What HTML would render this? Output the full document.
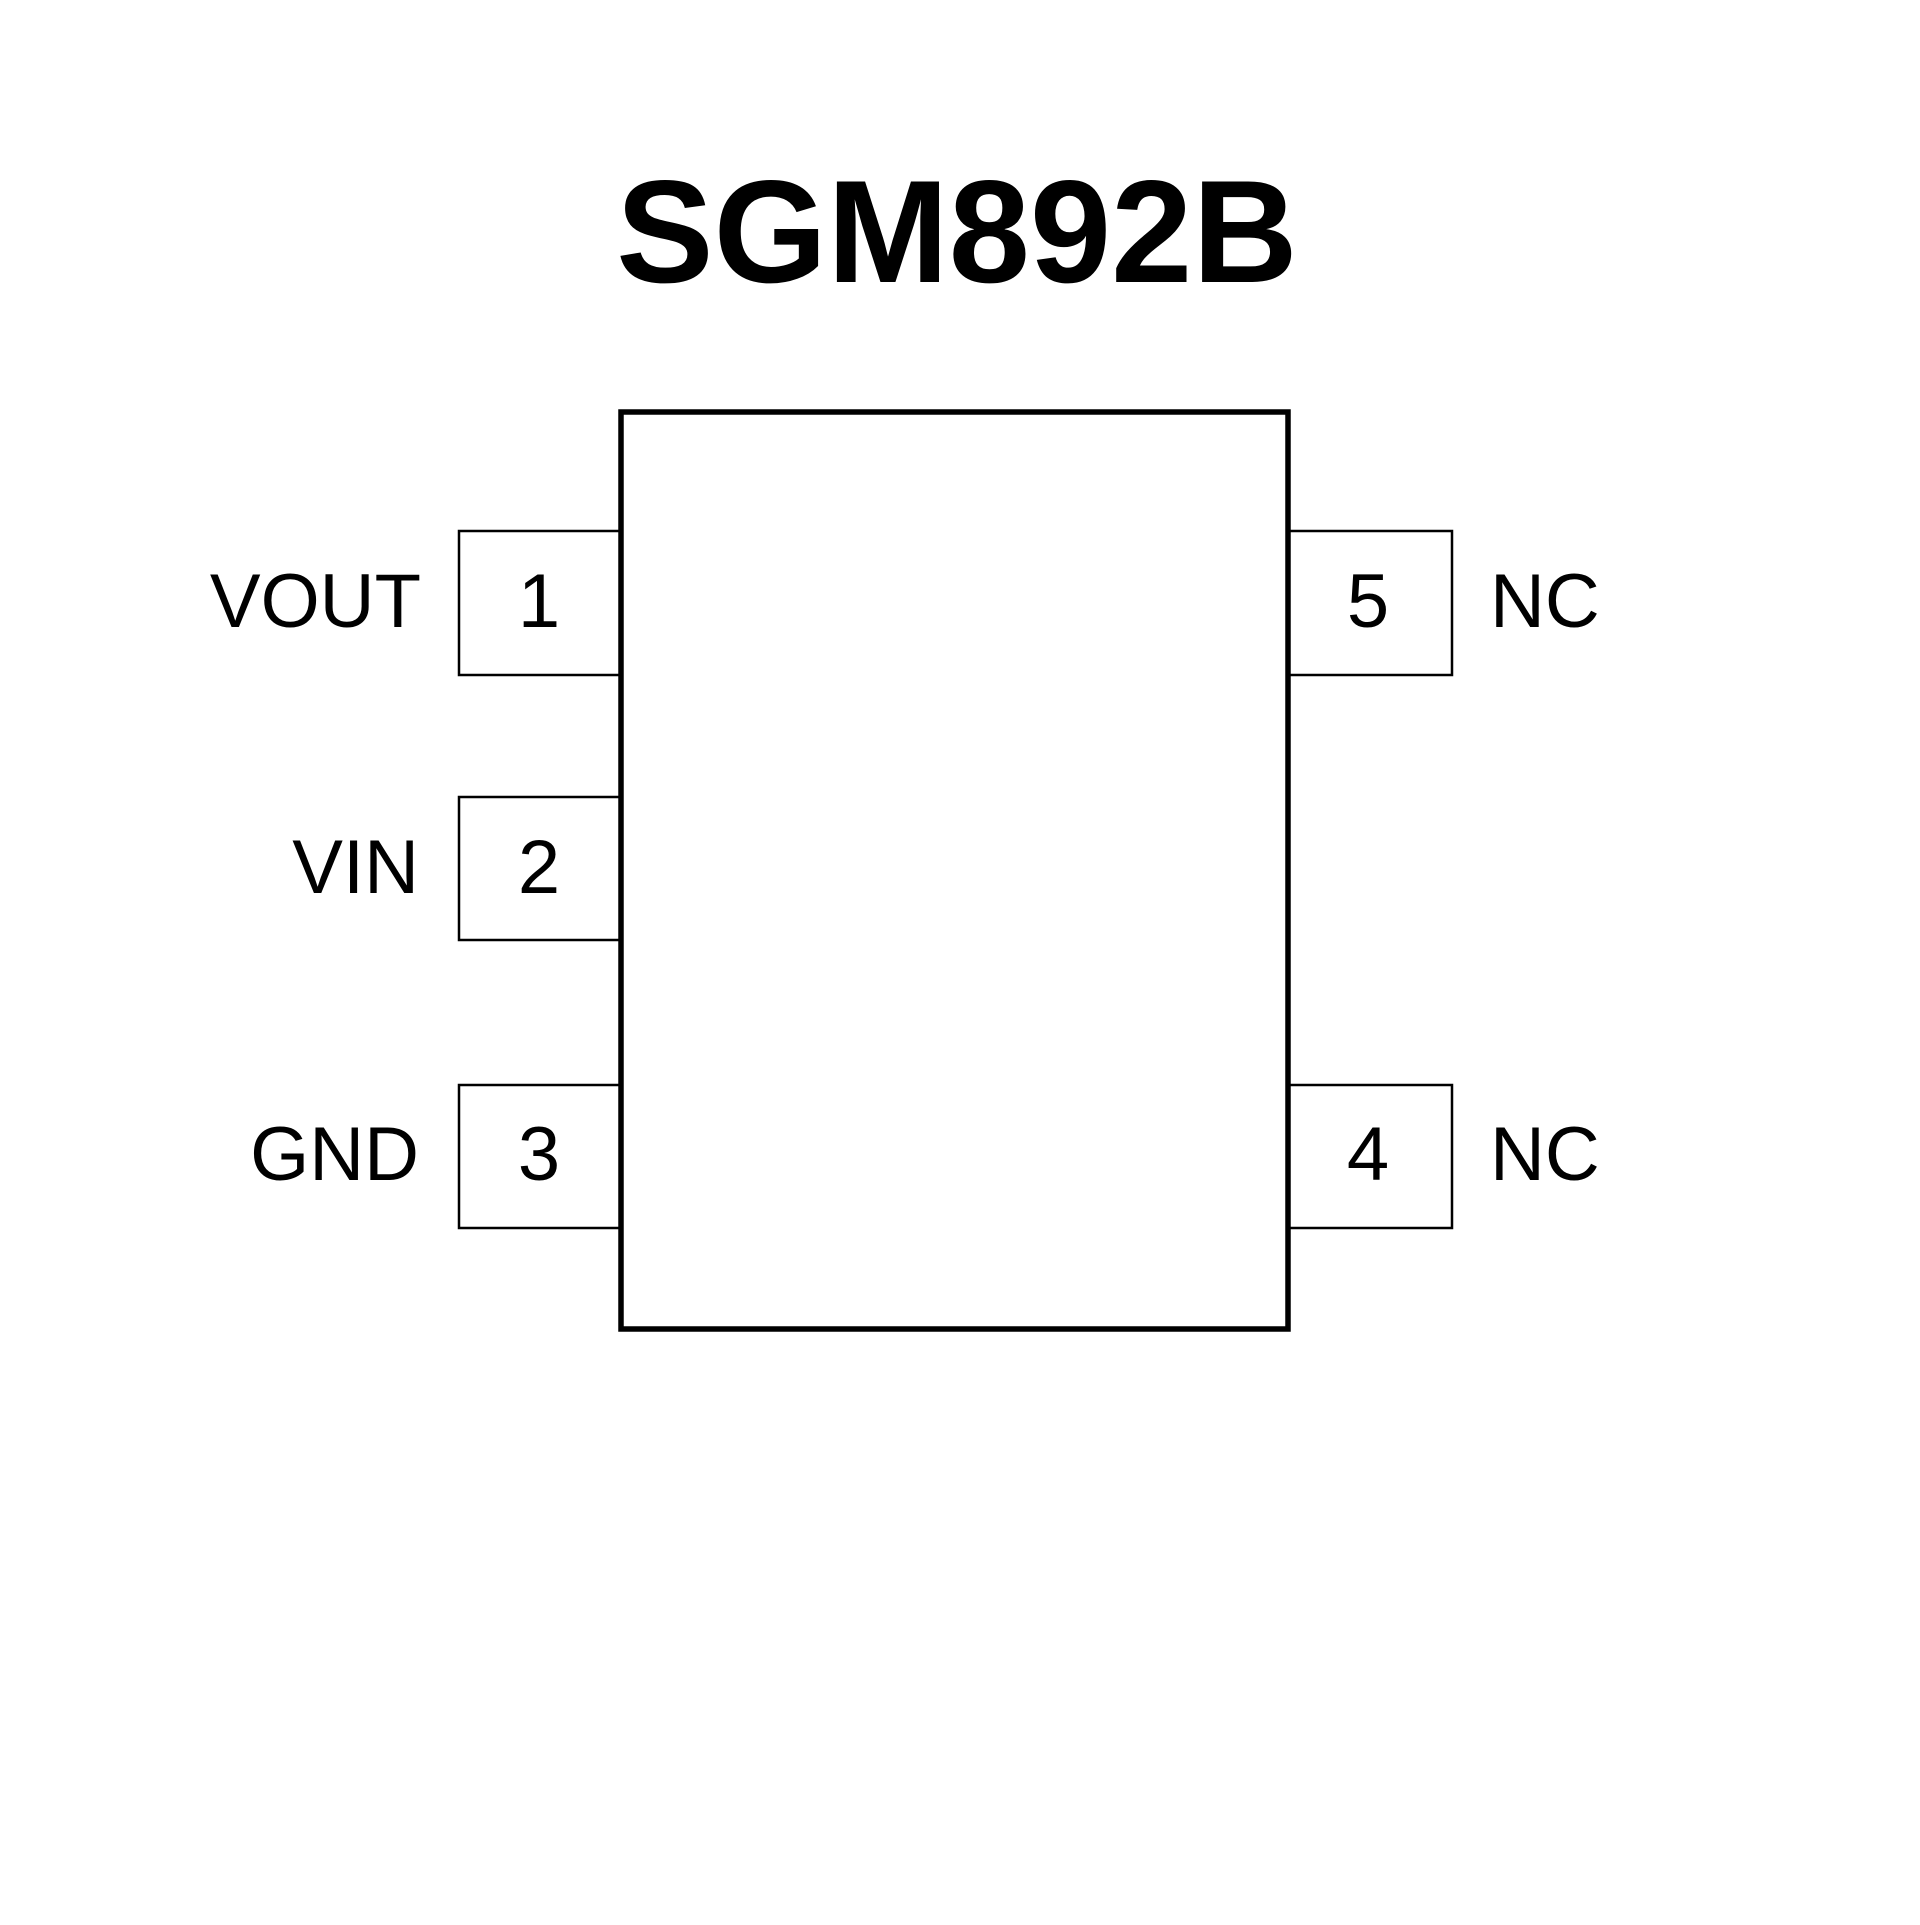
<!DOCTYPE html>
<html><head><style>html,body{margin:0;padding:0;background:#fff}</style></head>
<body>
<svg width="1920" height="1920" viewBox="0 0 1920 1920" xmlns="http://www.w3.org/2000/svg">
<rect width="1920" height="1920" fill="#fff"/>
<text x="957" y="282" font-family="Liberation Sans, sans-serif" font-weight="bold" font-size="146" text-anchor="middle" fill="#000">SGM892B</text>
<rect x="621" y="412" width="667" height="917" fill="none" stroke="#000" stroke-width="5.5"/>
<g fill="none" stroke="#000" stroke-width="2.5">
<polyline points="619,531 459,531 459,675 619,675"/>
<polyline points="619,797 459,797 459,940 619,940"/>
<polyline points="619,1085 459,1085 459,1228 619,1228"/>
<polyline points="1290,531 1452,531 1452,675 1290,675"/>
<polyline points="1290,1085 1452,1085 1452,1228 1290,1228"/>
</g>
<g font-family="Liberation Sans, sans-serif" font-size="76" fill="#000">
<text x="539" y="627" text-anchor="middle">1</text>
<text x="539" y="893" text-anchor="middle">2</text>
<text x="539" y="1180" text-anchor="middle">3</text>
<text x="1368" y="627" text-anchor="middle">5</text>
<text x="1368" y="1180" text-anchor="middle">4</text>
<text x="421" y="627" text-anchor="end">VOUT</text>
<text x="419" y="893" text-anchor="end">VIN</text>
<text x="419" y="1180" text-anchor="end">GND</text>
<text x="1490" y="627">NC</text>
<text x="1490" y="1180">NC</text>
</g>
</svg>
</body></html>
